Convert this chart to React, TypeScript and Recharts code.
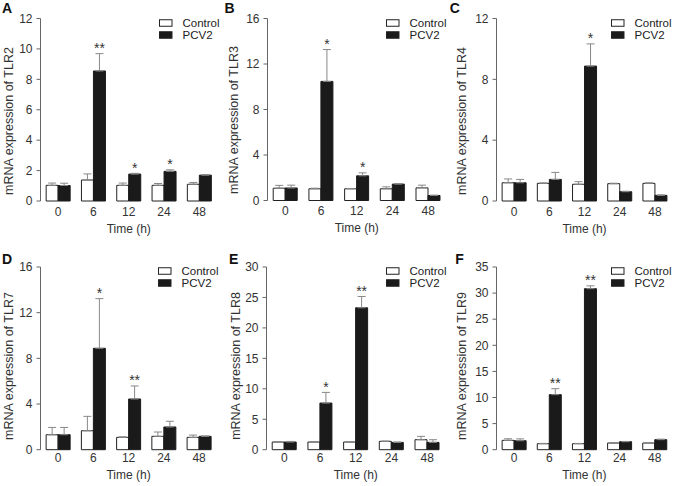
import React from 'react';
import { BarChart, Bar, XAxis, YAxis, ErrorBar, LabelList, Legend, Label } from 'recharts';

const FONT = "'Liberation Sans', Arial, Helvetica, sans-serif";

const times = ['0', '6', '12', '24', '48'];

// TLR2
const tlr2Control = [1.03, 1.38, 1.03, 1.03, 1.1];
const tlr2ControlErr = [0.15, 0.4, 0.15, 0.12, 0.12];
const tlr2Pcv2 = [1.02, 8.55, 1.77, 1.95, 1.7];
const tlr2Pcv2Err = [0.15, 1.14, 0.05, 0.1, 0.03];
const tlr2Sig = ['', '**', '*', '*', ''];
const tlr2Ticks = [0, 2, 4, 6, 8, 10, 12];

// TLR3
const tlr3Control = [1.08, 1.03, 1.03, 1.03, 1.11];
const tlr3ControlErr = [0.25, 0.05, 0.02, 0.17, 0.24];
const tlr3Pcv2 = [1.1, 10.47, 2.17, 1.44, 0.44];
const tlr3Pcv2Err = [0.25, 2.8, 0.26, 0.05, 0.03];
const tlr3Sig = ['', '*', '*', '', ''];
const tlr3Ticks = [0, 4, 8, 12, 16];

// TLR4
const tlr4Control = [1.2, 1.16, 1.1, 1.14, 1.16];
const tlr4ControlErr = [0.25, 0.03, 0.17, 0.03, 0.04];
const tlr4Pcv2 = [1.2, 1.42, 8.87, 0.61, 0.37];
const tlr4Pcv2Err = [0.22, 0.46, 1.46, 0.03, 0.03];
const tlr4Sig = ['', '', '*', '', ''];
const tlr4Ticks = [0, 4, 8, 12];

// TLR7
const tlr7Control = [1.31, 1.66, 1.08, 1.17, 1.08];
const tlr7ControlErr = [0.64, 1.26, 0.05, 0.38, 0.2];
const tlr7Pcv2 = [1.31, 8.88, 4.44, 1.99, 1.17];
const tlr7Pcv2Err = [0.64, 4.35, 1.14, 0.5, 0.03];
const tlr7Sig = ['', '*', '**', '', ''];
const tlr7Ticks = [0, 4, 8, 12, 16];

// TLR8
const tlr8Control = [1.26, 1.26, 1.26, 1.37, 1.64];
const tlr8ControlErr = [0.05, 0.05, 0.05, 0.05, 0.55];
const tlr8Pcv2 = [1.26, 7.66, 23.3, 1.2, 1.2];
const tlr8Pcv2Err = [0.1, 1.75, 1.86, 0.05, 0.44];
const tlr8Sig = ['', '*', '**', '', ''];
const tlr8Ticks = [0, 5, 10, 15, 20, 25, 30];

// TLR9
const tlr9Control = [1.79, 1.15, 1.15, 1.28, 1.28];
const tlr9ControlErr = [0.3, 0.05, 0.05, 0.05, 0.05];
const tlr9Pcv2 = [1.72, 10.54, 30.84, 1.53, 1.92];
const tlr9Pcv2Err = [0.35, 1.15, 0.55, 0.05, 0.1];
const tlr9Sig = ['', '**', '**', '', ''];
const tlr9Ticks = [0, 5, 10, 15, 20, 25, 30, 35];

const buildRows = (c: number[], ce: number[], p: number[], pe: number[], s: string[]) =>
  times.map((t, i) => ({
    time: t,
    control: c[i],
    cErr: [0, ce[i]],
    pcv2: p[i],
    pErr: [0, pe[i]],
    sig: s[i],
  }));

const panels = [
  { letter: 'A', gene: 'TLR2', rows: buildRows(tlr2Control, tlr2ControlErr, tlr2Pcv2, tlr2Pcv2Err, tlr2Sig), ticks: tlr2Ticks },
  { letter: 'B', gene: 'TLR3', rows: buildRows(tlr3Control, tlr3ControlErr, tlr3Pcv2, tlr3Pcv2Err, tlr3Sig), ticks: tlr3Ticks },
  { letter: 'C', gene: 'TLR4', rows: buildRows(tlr4Control, tlr4ControlErr, tlr4Pcv2, tlr4Pcv2Err, tlr4Sig), ticks: tlr4Ticks },
  { letter: 'D', gene: 'TLR7', rows: buildRows(tlr7Control, tlr7ControlErr, tlr7Pcv2, tlr7Pcv2Err, tlr7Sig), ticks: tlr7Ticks },
  { letter: 'E', gene: 'TLR8', rows: buildRows(tlr8Control, tlr8ControlErr, tlr8Pcv2, tlr8Pcv2Err, tlr8Sig), ticks: tlr8Ticks },
  { letter: 'F', gene: 'TLR9', rows: buildRows(tlr9Control, tlr9ControlErr, tlr9Pcv2, tlr9Pcv2Err, tlr9Sig), ticks: tlr9Ticks },
];

// layout (panel-relative pixels)
const layouts = [
  { px: 0, py: 0, pw: 224, left: 40.5, right: 217, top: 18.5, bottom: 201, tickMargin: 6, timeBase: 31.5, labelX: 9, labelY: 121, legX: 158.5, legY: 16.75, letterX: 2, letterY: 12.5 },
  { px: 224, py: 0, pw: 224, left: 43.5, right: 222, top: 18.5, bottom: 200.5, tickMargin: 6, timeBase: 31.5, labelX: 9.5, labelY: 120, legX: 161.7, legY: 16.75, letterX: 0.5, letterY: 12.5 },
  { px: 448, py: 0, pw: 225, left: 48.5, right: 224.5, top: 18.5, bottom: 201, tickMargin: 6, timeBase: 31.5, labelX: 14, labelY: 121, legX: 163, legY: 16.75, letterX: 1.7, letterY: 12.5 },
  { px: 0, py: 243, pw: 224, left: 40.5, right: 216.7, top: 24, bottom: 206.7, tickMargin: 4, timeBase: 29.5, labelX: 9, labelY: 123, legX: 158.3, legY: 21.75, letterX: 2, letterY: 20.5 },
  { px: 224, py: 243, pw: 224, left: 42.5, right: 221, top: 24, bottom: 206.7, tickMargin: 4, timeBase: 29.5, labelX: 11.7, labelY: 123, legX: 161.7, legY: 21.75, letterX: 5, letterY: 20.5 },
  { px: 448, py: 243, pw: 225, left: 48.5, right: 224.3, top: 24, bottom: 206.7, tickMargin: 4, timeBase: 29.5, labelX: 14, labelY: 123, legX: 163, legY: 21.75, letterX: 7.3, letterY: 20.5 },
];

const PH = 243;
const XAXIS_H = 38;
const AXIS_COLOR = '#666';
const TEXT_COLOR = '#333';
const LEG_ROW = 12;
const LEG_W = 62;
const LEG_FONT = 11.5;

const renderLegend = (props: any) => {
  const items = props.payload || [];
  return (
    <svg width={LEG_W} height={LEG_ROW * items.length} style={{ display: 'block', overflow: 'visible' }}>
      {items.map((it: any, i: number) => (
        <g key={it.value}>
          <rect
            x={0.5}
            y={i * LEG_ROW + (LEG_ROW - 7.5) / 2 + 0.5}
            width={12.5}
            height={6.5}
            fill={it.color}
            stroke="#222"
            strokeWidth={1}
          />
          <text x={23.5} y={i * LEG_ROW + LEG_ROW / 2 + 4.1} fontFamily={FONT} fontSize={LEG_FONT} fill="#222">
            {it.value}
          </text>
        </g>
      ))}
    </svg>
  );
};

const makeSig = (rows: any[]) => (props: any) => {
  const vb = props.viewBox || {};
  const x = props.x ?? vb.x;
  const y = props.y ?? vb.y;
  const width = props.width ?? vb.width;
  const height = props.height ?? vb.height;
  const index = props.index;
  const value = props.value;
  if (!value || index == null) return null;
  const row = rows[index];
  const ppu = height / row.pcv2;
  const topY = y - row.pErr[1] * ppu;
  return (
    <text x={x + width / 2} y={topY - 0.5} textAnchor="middle" fontSize={14} fill={TEXT_COLOR} fontFamily={FONT}>
      {value}
    </text>
  );
};

const Panel = ({ panel, lay }: { panel: any; lay: any }) => {
  const yMax = panel.ticks[panel.ticks.length - 1];
  const marginBottom = PH - lay.bottom - XAXIS_H;
  const plotCenterY = (lay.top + lay.bottom) / 2;
  return (
    <div style={{ position: 'absolute', left: lay.px, top: lay.py, width: lay.pw, height: PH }}>
      <BarChart
        width={lay.pw}
        height={PH}
        data={panel.rows}
        margin={{ top: lay.top, right: lay.pw - lay.right, bottom: marginBottom, left: 0 }}
        barCategoryGap="16%"
        barGap={0}
      >
        <XAxis
          xAxisId="grid"
          type="number"
          domain={[0, 5]}
          ticks={[0, 1, 2, 3, 4, 5]}
          allowDataOverflow
          tick={false}
          tickSize={4}
          height={0}
          axisLine={{ stroke: AXIS_COLOR }}
          tickLine={{ stroke: AXIS_COLOR }}
        />
        <XAxis
          xAxisId="cat"
          dataKey="time"
          height={XAXIS_H}
          axisLine={false}
          tickLine={false}
          tickSize={0}
          tickMargin={lay.tickMargin}
          interval={0}
          tick={{ fontSize: 12, fill: TEXT_COLOR, fontFamily: FONT }}
        >
          <Label
            value="Time (h)"
            position="insideBottom"
            offset={XAXIS_H - lay.timeBase}
            style={{ fontSize: 12, fill: TEXT_COLOR, fontFamily: FONT }}
          />
        </XAxis>
        <YAxis
          domain={[0, yMax]}
          ticks={panel.ticks}
          interval={0}
          width={lay.left}
          tickSize={4}
          tickMargin={4}
          axisLine={{ stroke: AXIS_COLOR }}
          tickLine={{ stroke: AXIS_COLOR }}
          tick={{ fontSize: 12, fill: TEXT_COLOR, fontFamily: FONT }}
        >
          <Label
            value={`mRNA expression of ${panel.gene}`}
            angle={-90}
            position="center"
            dx={lay.labelX - lay.left / 2}
            dy={lay.labelY - plotCenterY}
            style={{ fontSize: 12.5, fill: TEXT_COLOR, fontFamily: FONT, textAnchor: 'middle' }}
          />
        </YAxis>
        <Legend
          layout="vertical"
          align="center"
          verticalAlign="middle"
          wrapperStyle={{ left: lay.legX, top: lay.legY, width: LEG_W, height: 2 * LEG_ROW }}
          content={renderLegend}
        />
        <Bar xAxisId="cat" dataKey="control" name="Control" fill="#ffffff" stroke="#222" strokeWidth={1} isAnimationActive={false}>
          <ErrorBar dataKey="cErr" direction="y" width={4} stroke="#888" strokeWidth={1} />
        </Bar>
        <Bar xAxisId="cat" dataKey="pcv2" name="PCV2" fill="#1a1a1a" stroke="#1a1a1a" strokeWidth={1} isAnimationActive={false}>
          <ErrorBar dataKey="pErr" direction="y" width={4} stroke="#888" strokeWidth={1} />
          <LabelList dataKey="sig" content={makeSig(panel.rows)} />
        </Bar>
      </BarChart>
      <svg width={20} height={24} style={{ position: 'absolute', left: 0, top: 0, pointerEvents: 'none' }}>
        <text x={lay.letterX} y={lay.letterY} fontFamily={FONT} fontWeight="bold" fontSize={14} fill="#111">
          {panel.letter}
        </text>
      </svg>
    </div>
  );
};

export default function App() {
  return (
    <div style={{ position: 'absolute', left: 0, top: 0, width: 673, height: 486, background: '#fff', overflow: 'hidden' }}>
      {panels.map((p, i) => (
        <Panel key={p.letter} panel={p} lay={layouts[i]} />
      ))}
    </div>
  );
}
